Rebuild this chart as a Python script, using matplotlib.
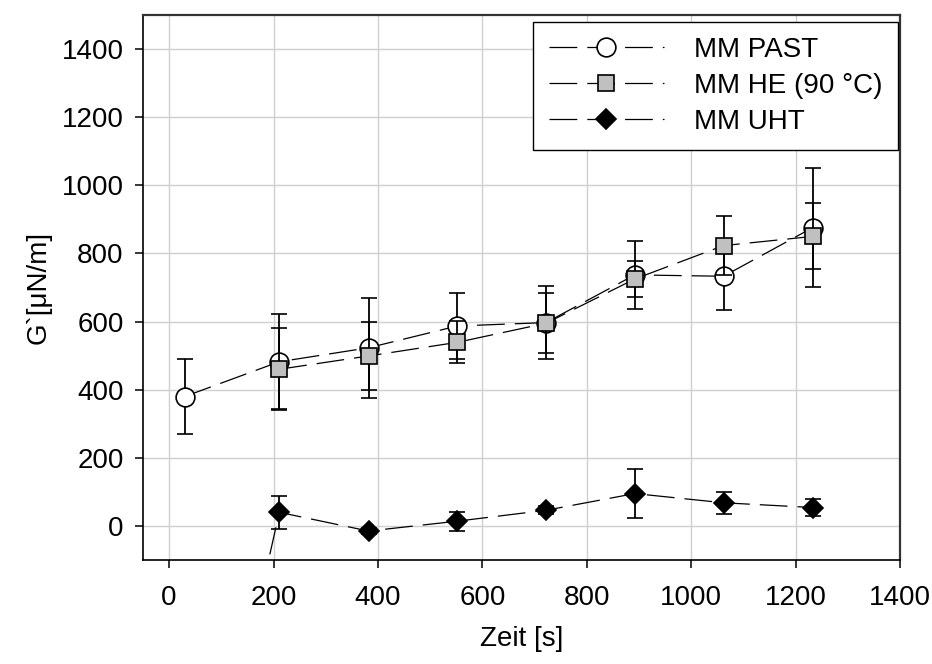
import matplotlib
matplotlib.use("Agg")
import matplotlib.pyplot as plt
import numpy as np

plt.rcParams['font.family'] = ['Liberation Sans', 'DejaVu Sans']
plt.rcParams['lines.scale_dashes'] = False

# ---- data ----
time_s = [30, 211, 382, 552, 722, 892, 1062, 1233]

past_y = [380, 482, 523, 587, 597, 737, 733, 876]
past_err = [110, 140, 147, 97, 106, 100, 100, 175]

he_time = [211, 382, 552, 722, 892, 1062, 1233]
he_y = [460, 499, 539, 595, 725, 823, 850]
he_err = [121, 100, 62, 88, 52, 87, 97]

uht_y = [-1200, 40, -15, 14, 46, 95, 68, 54]
uht_err = [0, 49, 10, 28, 12, 72, 32, 24]

labels = ['MM PAST', 'MM HE (90 °C)', 'MM UHT']
x_ticks = [0, 200, 400, 600, 800, 1000, 1200, 1400]
y_ticks = [0, 200, 400, 600, 800, 1000, 1200, 1400]

# ---- figure ----
fig = plt.figure(figsize=(9.32, 6.64), dpi=100)
W, H = 932, 664
ax = fig.add_axes([143 / W, 1 - 560 / H, (900 - 143) / W, (560 - 15) / H])

dash = (20, 7.2)
lw = 0.9
fs = 20

common = dict(color='black', lw=lw, ecolor='black', elinewidth=1.3,
              capsize=6, capthick=1.3, markeredgecolor='black',
              markeredgewidth=1.2)

h1 = ax.errorbar(time_s, past_y, yerr=past_err, marker='o', ms=13.5,
                 markerfacecolor='white', dashes=dash, zorder=3,
                 label=labels[0], **common)
h2 = ax.errorbar(he_time, he_y, yerr=he_err, marker='s', ms=11.5,
                 markerfacecolor='#c0c0c0', dashes=dash, zorder=4,
                 label=labels[1], **common)
h3 = ax.errorbar(time_s, uht_y, yerr=uht_err, marker='D', ms=10.5,
                 markerfacecolor='black', dashes=dash, zorder=5,
                 label=labels[2], **common)

ax.set_xlim(-50, 1400)
ax.set_ylim(-100, 1500)
ax.set_xticks(x_ticks)
ax.set_yticks(y_ticks)
ax.grid(True, color='#d0d0d0', lw=1.0, zorder=0)
ax.set_axisbelow(True)

ax.tick_params(direction='out', length=6, width=1.1, labelsize=fs,
               top=False, right=False)
ax.tick_params(axis='x', pad=12)
ax.tick_params(axis='y', pad=8)
for s in ['left', 'bottom']:
    ax.spines[s].set_linewidth(1.2)
    ax.spines[s].set_color('black')
for s in ['top', 'right']:
    ax.spines[s].set_linewidth(1.6)
    ax.spines[s].set_color('#333333')

ax.set_xlabel('Zeit [s]', fontsize=fs)
ax.set_ylabel('G`[μN/m]', fontsize=fs)
ax.xaxis.set_label_coords(0.5, -(626 - 560) / 545)
ax.yaxis.set_label_coords((52 - 143) / 757, 0.5)

# legend with line+marker handles (no error bars)
handles = [h1.lines[0], h2.lines[0], h3.lines[0]]
leg = ax.legend(handles, labels, loc='upper right',
                bbox_to_anchor=(0.997, 0.988), fontsize=fs,
                frameon=True, fancybox=False, shadow=False,
                edgecolor='black', framealpha=1, handlelength=4.15,
                handletextpad=1.08, labelspacing=0.36, borderpad=0.55,
                borderaxespad=0)
leg.get_frame().set_linewidth(1.0)

fig.savefig('out.png', dpi=100)
